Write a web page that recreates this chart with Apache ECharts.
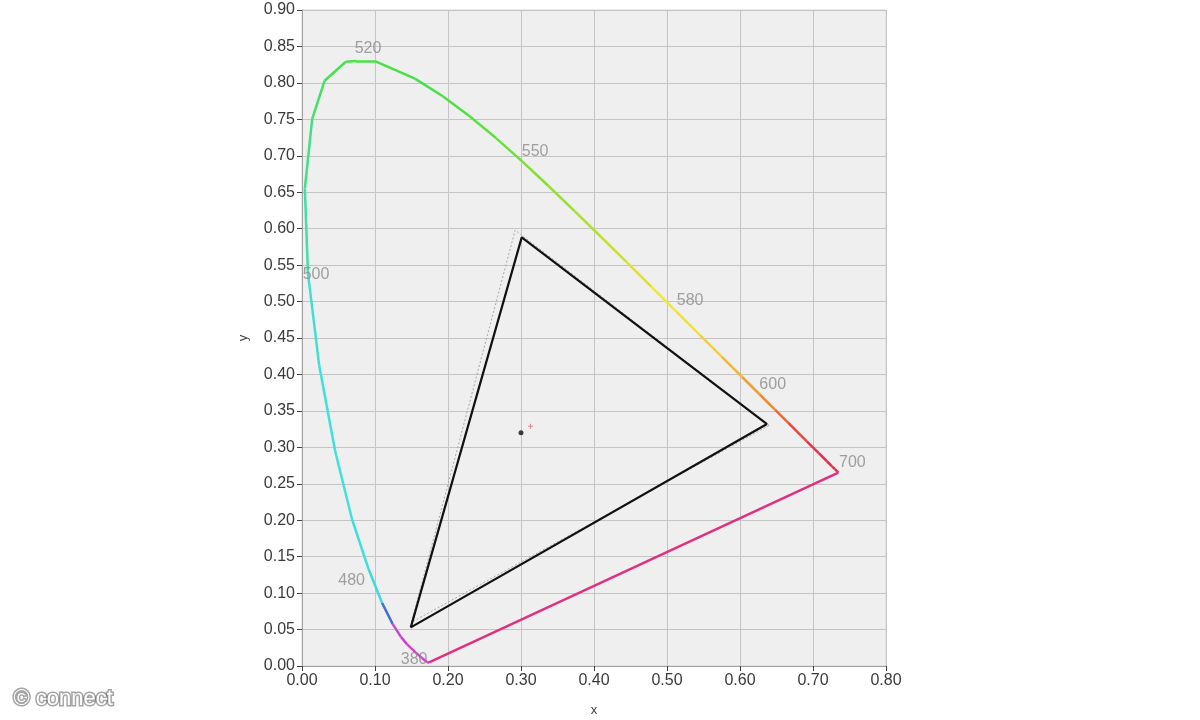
<!DOCTYPE html>
<html>
<head>
<meta charset="utf-8">
<script src="https://cdn.jsdelivr.net/npm/echarts@6/dist/echarts.min.js"></script>
<style>html,body{margin:0;padding:0;background:#fff;}#c{width:1200px;height:720px;}</style>
</head>
<body>
<div id="c"></div>
<script>
// Spectral locus: wavelength (nm), x, y, colour as drawn
var wavelengths = [380, 420, 440, 450, 460, 465, 470, 475, 480, 485, 490, 495, 500, 505, 510, 515, 518, 520, 525, 530, 535, 540, 545, 550, 555, 560, 565, 570, 575, 580, 585, 590, 595, 600, 605, 610, 620, 630, 640, 650, 660, 680, 700];
var locusX = [0.1741, 0.1714, 0.1644, 0.1566, 0.1440, 0.1355, 0.1241, 0.1096, 0.0913, 0.0687, 0.0454, 0.0235, 0.0082, 0.0039, 0.0139, 0.031, 0.060, 0.074, 0.100, 0.1547, 0.1929, 0.2296, 0.2658, 0.3016, 0.3373, 0.3731, 0.4087, 0.4441, 0.4788, 0.5125, 0.5448, 0.5752, 0.6029, 0.6270, 0.6482, 0.6658, 0.6915, 0.7079, 0.7190, 0.7260, 0.7300, 0.7334, 0.7347];
var locusY = [0.0050, 0.0051, 0.0109, 0.0177, 0.0297, 0.0399, 0.0578, 0.0868, 0.1327, 0.2007, 0.2950, 0.4127, 0.5384, 0.6548, 0.7502, 0.803, 0.829, 0.830, 0.830, 0.8059, 0.7816, 0.7543, 0.7243, 0.6923, 0.6589, 0.6245, 0.5896, 0.5547, 0.5202, 0.4866, 0.4544, 0.4242, 0.3965, 0.3725, 0.3514, 0.3340, 0.3083, 0.2920, 0.2809, 0.2740, 0.2700, 0.2666, 0.2653];
var locusColors = ['#d840d0', '#d840d0', '#d840d0', '#d840d0', '#d040d0', '#c048d0', '#4070d0', '#40d8e0', '#40dce0', '#40e0e0', '#40e0e0', '#40e0d0', '#40e0a8', '#40e088', '#44e068', '#48e050', '#48e048', '#48e048', '#48e048', '#48e048', '#50e044', '#5ce040', '#6ce038', '#80e030', '#98e030', '#b0e030', '#c8e030', '#e0e030', '#f0e838', '#f0e040', '#f0d040', '#f0b838', '#f0a030', '#f08830', '#f06830', '#e84840', '#e03848', '#e03050', '#e03050', '#e03050', '#e03050', '#e03050', '#e03050'];
var purpleColor = '#e0307f';

// Measured gamut triangle (R, G, B) and reference triangle
var gamutX = [0.637, 0.301, 0.149];
var gamutY = [0.332, 0.588, 0.053];
var refX = [0.64, 0.292, 0.15];
var refY = [0.33, 0.598, 0.06];

// White points: measured and reference
var whiteMeasured = [0.300, 0.320];
var whiteRef = [0.313, 0.329];

// Wavelength labels and their placement
var labelWl = [520, 550, 580, 600, 700, 500, 480, 380];
var labelOffsets = [[12, -12], [13, -10], [14, -11], [13, -10], [14, -10], [8, 1], [-17, 11], [-15, -3]];

var xTicks = { min: 0, max: 0.8, interval: 0.1 };
var yTicks = { min: 0, max: 0.9, interval: 0.05 };

var locusSegments = [];
for (var i = 0; i < wavelengths.length - 1; i++) {
  locusSegments.push({ coords: [[locusX[i], locusY[i]], [locusX[i + 1], locusY[i + 1]]], lineStyle: { color: locusColors[i] } });
}
var n = wavelengths.length - 1;
locusSegments.push({ coords: [[locusX[n], locusY[n]], [locusX[0], locusY[0]]], lineStyle: { color: purpleColor } });

function closed(xs, ys) {
  var d = [];
  for (var i = 0; i < xs.length; i++) d.push([xs[i], ys[i]]);
  d.push([xs[0], ys[0]]);
  return d;
}

var labelData = labelWl.map(function (w, k) {
  var idx = wavelengths.indexOf(w);
  return { value: [locusX[idx], locusY[idx]], name: String(w), label: { offset: labelOffsets[k] } };
});

var fontFam = 'Liberation Sans, Arial, sans-serif';
var chart = echarts.init(document.getElementById('c'));
chart.setOption({
  backgroundColor: '#ffffff',
  animation: false,
  grid: { left: 302, right: 314, top: 10, bottom: 54, containLabel: false, outerBoundsMode: 'none', show: true, backgroundColor: '#efefef', borderColor: '#d6d6d6', borderWidth: 1 },
  xAxis: {
    type: 'value', min: xTicks.min, max: xTicks.max, interval: xTicks.interval,
    name: 'x', nameLocation: 'middle', nameGap: 38,
    nameTextStyle: { color: '#404040', fontSize: 13, fontFamily: fontFam },
    axisLine: { show: true, onZero: false, lineStyle: { color: '#a0a0a0' } },
    axisTick: { show: true, length: 5, lineStyle: { color: '#404040' } },
    axisLabel: { color: '#3a3a3a', fontSize: 16, fontFamily: fontFam, margin: 7, formatter: function (v) { return v.toFixed(2); } },
    splitLine: { show: true, lineStyle: { color: '#c4c4c4', width: 1 } }
  },
  yAxis: {
    type: 'value', min: yTicks.min, max: yTicks.max, interval: yTicks.interval,
    name: 'y', nameLocation: 'middle', nameGap: 52, nameRotate: 90,
    nameTextStyle: { color: '#404040', fontSize: 13, fontFamily: fontFam },
    axisLine: { show: true, onZero: false, lineStyle: { color: '#a0a0a0' } },
    axisTick: { show: true, length: 5, lineStyle: { color: '#404040' } },
    axisLabel: { color: '#3a3a3a', fontSize: 16, fontFamily: fontFam, margin: 7, formatter: function (v) { return v.toFixed(2); } },
    splitLine: { show: true, lineStyle: { color: '#c4c4c4', width: 1 } }
  },
  series: [
    {
      type: 'lines', coordinateSystem: 'cartesian2d', polyline: false,
      lineStyle: { width: 2.5, opacity: 1 }, data: locusSegments, silent: true, z: 3
    },
    {
      type: 'line', data: closed(refX, refY), symbol: 'none',
      lineStyle: { color: '#a8a8a8', width: 1, type: [2, 2] }, z: 2
    },
    {
      type: 'line', data: closed(gamutX, gamutY), symbol: 'none',
      lineStyle: { color: '#111111', width: 2.2 }, z: 4
    },
    {
      type: 'scatter', data: [whiteMeasured], symbol: 'circle', symbolSize: 5,
      itemStyle: { color: '#111' }, z: 5
    },
    {
      type: 'scatter', data: [whiteRef], symbol: 'path://M2,0H3V2H5V3H3V5H2V3H0V2H2Z', symbolSize: 5,
      itemStyle: { color: '#e07070' }, z: 5
    },
    {
      type: 'scatter', data: labelData, symbolSize: 0, z: 6,
      label: { show: true, position: 'inside', formatter: '{b}', color: '#8a8a8a', fontSize: 16, fontFamily: fontFam }
    }
  ],
  graphic: [{
    type: 'text', left: 12, top: 686,
    style: {
      text: '\u00a9 connect', fill: '#ffffff', fontSize: 22, fontFamily: fontFam,
      stroke: 'rgba(90,90,90,0.55)', lineWidth: 3, shadowBlur: 6, shadowColor: 'rgba(0,0,0,0.55)'
    }
  }]
});
</script>
</body>
</html>
